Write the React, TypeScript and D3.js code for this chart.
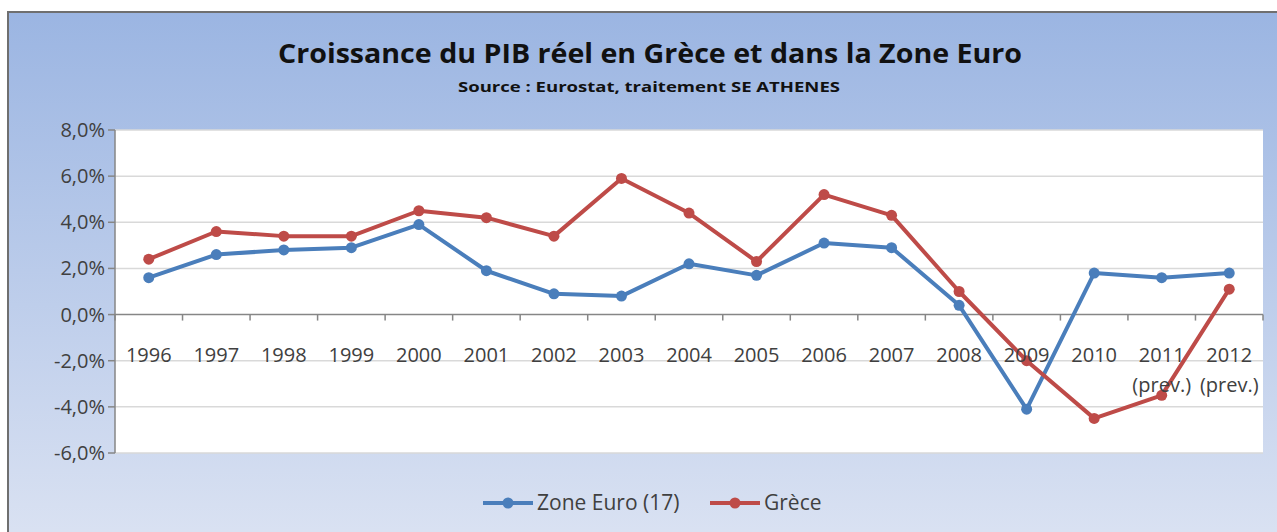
import React from "react";
import * as d3 from "d3";

const years = ["1996","1997","1998","1999","2000","2001","2002","2003","2004","2005","2006","2007","2008","2009","2010","2011","2012"];
const subLabels = ["","","","","","","","","","","","","","","","(prev.)","(prev.)"];
const zoneEuro = [1.6,2.6,2.8,2.9,3.9,1.9,0.9,0.8,2.2,1.7,3.1,2.9,0.4,-4.1,1.8,1.6,1.8];
const grece = [2.4,3.6,3.4,3.4,4.5,4.2,3.4,5.9,4.4,2.3,5.2,4.3,1.0,-2.0,-4.5,-3.5,1.1];
const yTicks = [8,6,4,2,0,-2,-4,-6];
const seriesNames = ["Zone Euro (17)", "Grèce"];
const titleText = "Croissance du PIB réel en Grèce et dans la Zone Euro";
const subtitleText = "Source : Eurostat, traitement SE ATHENES";

const W = 1277, H = 532;
const plot = { left: 115, right: 1263, top: 130, bottom: 453 };
const BLUE = "#4a7ebb";
const RED = "#be4b48";
const FONT = "'Open Sans', 'Noto Sans', sans-serif";

export default function App() {
  const x = d3.scaleBand<string>().domain(years).range([plot.left, plot.right]).paddingInner(0).paddingOuter(0);
  const y = d3.scaleLinear().domain([-6, 8]).range([plot.bottom, plot.top]);
  const cx = (i: number) => (x(years[i]) as number) + x.bandwidth() / 2;
  const line = d3.line<number>().x((_, i) => cx(i)).y((d) => y(d));
  const fmt = (v: number) => v.toFixed(1).replace(".", ",") + "%";
  const series = [
    { name: seriesNames[0], values: zoneEuro, color: BLUE },
    { name: seriesNames[1], values: grece, color: RED },
  ];
  const y0 = y(0);
  const boundaries = years.map((yr) => x(yr) as number).concat([plot.right]);

  return (
    <svg width={W} height={H} style={{ position: "absolute", left: 0, top: 0 }} fontFamily={FONT}>
      <defs>
        <linearGradient id="bg" x1="0" y1="0" x2="0" y2="1">
          <stop offset="0" stopColor="#9bb5e2" />
          <stop offset="1" stopColor="#dde4f3" />
        </linearGradient>
      </defs>
      <rect x={0} y={0} width={W} height={H} fill="#ffffff" />
      <rect x={8} y={12} width={W + 20} height={H + 20} fill="url(#bg)" stroke="#6f6f6f" strokeWidth={2} />
      <rect x={plot.left} y={plot.top} width={plot.right - plot.left} height={plot.bottom - plot.top} fill="#ffffff" />

      <text x={650} y={63} textAnchor="middle" fontSize={26} fontWeight="bold" fill="#111" textLength={744} lengthAdjust="spacingAndGlyphs">{titleText}</text>
      <text x={649} y={92} textAnchor="middle" fontSize={15} fontWeight="bold" fill="#111" textLength={382} lengthAdjust="spacingAndGlyphs">{subtitleText}</text>

      {yTicks.map((t) => (
        <g key={t}>
          <line x1={plot.left} x2={plot.right} y1={y(t)} y2={y(t)} stroke={t === 0 ? "#868686" : "#d9d9d9"} strokeWidth={1.5} />
          <line x1={plot.left - 7} x2={plot.left} y1={y(t)} y2={y(t)} stroke="#868686" strokeWidth={1.5} />
          <text x={plot.left - 10} y={y(t)} dy="0.35em" textAnchor="end" fontSize={20} fill="#404040">{fmt(t)}</text>
        </g>
      ))}
      <line x1={plot.left} x2={plot.left} y1={plot.top} y2={plot.bottom} stroke="#868686" strokeWidth={1.5} />
      {boundaries.map((bx, i) => (
        <line key={i} x1={bx} x2={bx} y1={y0} y2={y0 + 6} stroke="#868686" strokeWidth={1.5} />
      ))}

      {series.map((s) => (
        <g key={s.name}>
          <path d={line(s.values) as string} fill="none" stroke={s.color} strokeWidth={4} strokeLinejoin="round" />
          {s.values.map((v, i) => (
            <circle key={i} cx={cx(i)} cy={y(v)} r={5.5} fill={s.color} />
          ))}
        </g>
      ))}

      {years.map((yr, i) => (
        <g key={yr}>
          <text x={cx(i)} y={362} textAnchor="middle" fontSize={20} fill="#404040">{yr}</text>
          {subLabels[i] && (
            <text x={cx(i)} y={392} textAnchor="middle" fontSize={20} fill="#404040">{subLabels[i]}</text>
          )}
        </g>
      ))}

      {series.map((s, i) => {
        const lx = i === 0 ? 483 : 710;
        return (
          <g key={s.name}>
            <line x1={lx} x2={lx + 50} y1={503} y2={503} stroke={s.color} strokeWidth={4} />
            <circle cx={lx + 25} cy={503} r={5.5} fill={s.color} />
            <text x={lx + 54} y={503} dy="0.35em" fontSize={21} fill="#404040">{s.name}</text>
          </g>
        );
      })}
    </svg>
  );
}
